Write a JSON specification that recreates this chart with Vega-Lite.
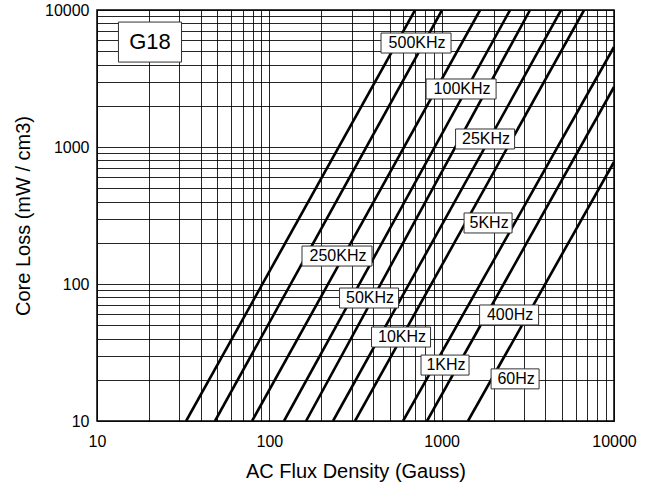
{
  "$schema": "https://vega.github.io/schema/vega-lite/v6.json",
  "width": 517,
  "height": 411,
  "autosize": "none",
  "padding": {"left": 97, "top": 10, "right": 40, "bottom": 69},
  "background": "white",
  "config": {
    "font": "Liberation Sans",
    "view": {"stroke": "black", "strokeWidth": 1.5}
  },
  "datasets": {
    "curves": [
      {"freq": "500KHz", "B": 32.9, "P": 10}, {"freq": "500KHz", "B": 701, "P": 10000},
      {"freq": "250KHz", "B": 48.4, "P": 10}, {"freq": "250KHz", "B": 1005, "P": 10000},
      {"freq": "100KHz", "B": 79.4, "P": 10}, {"freq": "100KHz", "B": 1671, "P": 10000},
      {"freq": "50KHz", "B": 121.7, "P": 10}, {"freq": "50KHz", "B": 2495, "P": 10000},
      {"freq": "25KHz", "B": 163.3, "P": 10}, {"freq": "25KHz", "B": 3258, "P": 10000},
      {"freq": "10KHz", "B": 234.2, "P": 10}, {"freq": "10KHz", "B": 4932, "P": 10000},
      {"freq": "5KHz", "B": 314.2, "P": 10}, {"freq": "5KHz", "B": 6706, "P": 10000},
      {"freq": "1KHz", "B": 597, "P": 10}, {"freq": "1KHz", "B": 10000, "P": 5370},
      {"freq": "400Hz", "B": 822, "P": 10}, {"freq": "400Hz", "B": 10000, "P": 2742},
      {"freq": "60Hz", "B": 1422, "P": 10}, {"freq": "60Hz", "B": 10000, "P": 777}
    ],
    "labels": [
      {"label": "500KHz", "B": 710, "P": 5741},
      {"label": "100KHz", "B": 1296, "P": 2651},
      {"label": "25KHz", "B": 1786, "P": 1144},
      {"label": "250KHz", "B": 247, "P": 160},
      {"label": "5KHz", "B": 1859, "P": 278.9},
      {"label": "50KHz", "B": 379, "P": 79},
      {"label": "10KHz", "B": 581, "P": 41.0},
      {"label": "400Hz", "B": 2462, "P": 59.4},
      {"label": "1KHz", "B": 1046, "P": 25.6},
      {"label": "60Hz", "B": 2667, "P": 20.3}
    ],
    "tag": [
      {"label": "G18", "B": 20.3, "P": 5834}
    ]
  },
  "layer": [
    {
      "data": {"name": "curves"},
      "mark": {"type": "line", "color": "black", "strokeWidth": 2.6, "clip": true},
      "encoding": {
        "x": {
          "field": "B", "type": "quantitative",
          "scale": {"type": "log", "domain": [10, 10000], "nice": false},
          "axis": {
            "title": "AC Flux Density (Gauss)",
            "values": [10,20,30,40,50,60,70,80,90,100,200,300,400,500,600,700,800,900,1000,2000,3000,4000,5000,6000,7000,8000,9000,10000],
            "labelExpr": "datum.value == 10 || datum.value == 100 || datum.value == 1000 || datum.value == 10000 ? format(datum.value, 'd') : ''",
            "grid": true, "gridColor": "black", "gridWidth": 1, "gridOpacity": 0.85,
            "ticks": false, "domain": false,
            "labelFlush": false, "labelOverlap": false,
            "labelFontSize": 16, "labelColor": "black", "labelPadding": 12,
            "titleFontSize": 20, "titleFontWeight": "normal", "titleColor": "black", "titlePadding": 12
          }
        },
        "y": {
          "field": "P", "type": "quantitative",
          "scale": {"type": "log", "domain": [10, 10000], "nice": false},
          "axis": {
            "title": "Core Loss (mW / cm3)",
            "values": [10,20,30,40,50,60,70,80,90,100,200,300,400,500,600,700,800,900,1000,2000,3000,4000,5000,6000,7000,8000,9000,10000],
            "labelExpr": "datum.value == 10 || datum.value == 100 || datum.value == 1000 || datum.value == 10000 ? format(datum.value, 'd') : ''",
            "grid": true, "gridColor": "black", "gridWidth": 1, "gridOpacity": 0.85,
            "ticks": false, "domain": false,
            "labelFlush": false, "labelOverlap": false,
            "labelFontSize": 16, "labelColor": "black", "labelPadding": 8,
            "titleFontSize": 20, "titleFontWeight": "normal", "titleColor": "black", "titlePadding": 11
          }
        },
        "detail": {"field": "freq", "type": "nominal"}
      }
    },
    {
      "data": {"name": "labels"},
      "transform": [
        {"calculate": "(11 * length(datum.label) + 4) / 344.6", "as": "hw"},
        {"calculate": "datum.B * pow(10, -datum.hw)", "as": "B0"},
        {"calculate": "datum.B * pow(10, datum.hw)", "as": "B1"},
        {"calculate": "datum.P * pow(10, -0.073)", "as": "P0"},
        {"calculate": "datum.P * pow(10, 0.073)", "as": "P1"}
      ],
      "mark": {"type": "rect", "fill": "white", "stroke": "#333", "strokeWidth": 1},
      "encoding": {
        "x": {"field": "B0", "type": "quantitative"},
        "x2": {"field": "B1"},
        "y": {"field": "P0", "type": "quantitative"},
        "y2": {"field": "P1"}
      }
    },
    {
      "data": {"name": "labels"},
      "mark": {"type": "text", "fontSize": 16, "color": "black", "align": "center", "baseline": "middle", "dx": 1},
      "encoding": {
        "x": {"field": "B", "type": "quantitative"},
        "y": {"field": "P", "type": "quantitative"},
        "text": {"field": "label", "type": "nominal"}
      }
    },
    {
      "data": {"name": "tag"},
      "transform": [
        {"calculate": "datum.B * pow(10, -0.183)", "as": "B0"},
        {"calculate": "datum.B * pow(10, 0.183)", "as": "B1"},
        {"calculate": "datum.P * pow(10, -0.146)", "as": "P0"},
        {"calculate": "datum.P * pow(10, 0.146)", "as": "P1"}
      ],
      "mark": {"type": "rect", "fill": "white", "stroke": "#333", "strokeWidth": 1},
      "encoding": {
        "x": {"field": "B0", "type": "quantitative"},
        "x2": {"field": "B1"},
        "y": {"field": "P0", "type": "quantitative"},
        "y2": {"field": "P1"}
      }
    },
    {
      "data": {"name": "tag"},
      "mark": {"type": "text", "fontSize": 22, "color": "black", "align": "center", "baseline": "middle"},
      "encoding": {
        "x": {"field": "B", "type": "quantitative"},
        "y": {"field": "P", "type": "quantitative"},
        "text": {"field": "label", "type": "nominal"}
      }
    }
  ]
}
